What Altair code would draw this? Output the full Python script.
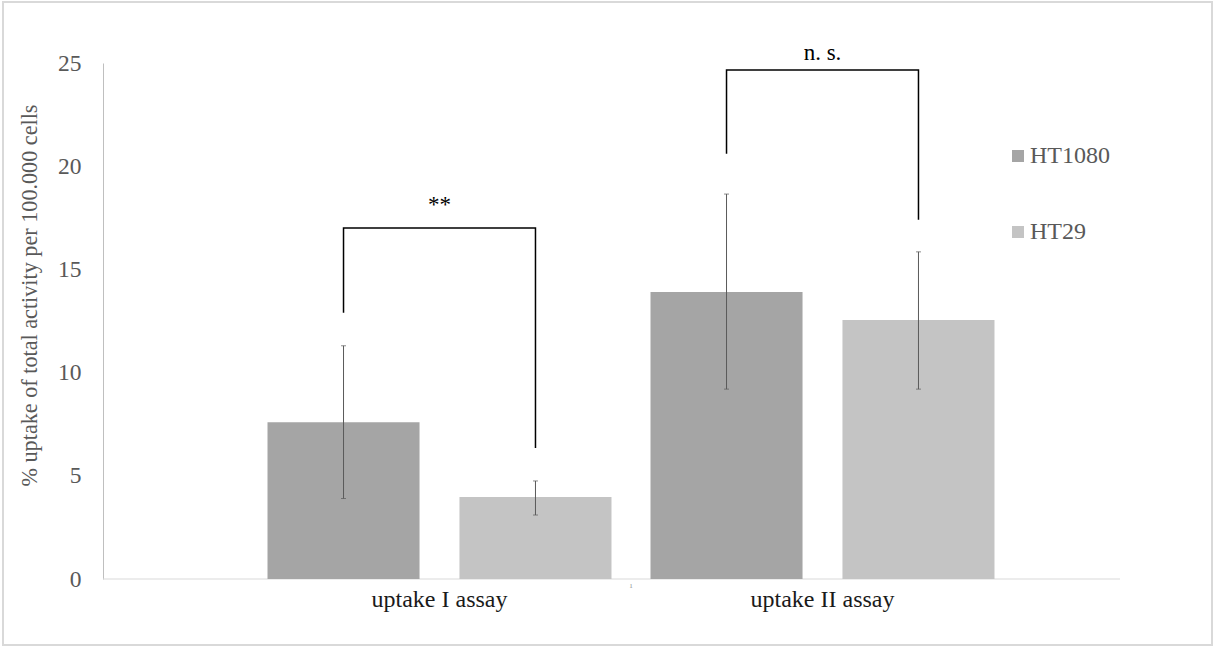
import altair as alt
import pandas as pd

# Mean uptake per assay and cell line, with error bar limits
assays = ["uptake I assay", "uptake I assay", "uptake II assay", "uptake II assay"]
cell_lines = ["HT1080", "HT29", "HT1080", "HT29"]
means = [7.6, 3.97, 13.9, 12.55]
err_low = [3.9, 3.1, 9.2, 9.2]
err_high = [11.3, 4.75, 18.65, 15.85]

# Significance brackets (each bracket is a 4-point polyline)
br_id = ["a", "a", "a", "a", "b", "b", "b", "b"]
br_assay = ["uptake I assay"] * 4 + ["uptake II assay"] * 4
br_line = ["HT1080", "HT1080", "HT29", "HT29", "HT1080", "HT1080", "HT29", "HT29"]
br_y = [12.9, 17.0, 17.0, 6.35, 20.6, 24.66, 24.66, 17.4]
br_order = [0, 1, 2, 3, 0, 1, 2, 3]

sig_assay = ["uptake I assay", "uptake II assay"]
sig_text = ["**", "n. s."]
sig_y = [18.1, 25.5]

categories = ["uptake I assay", "uptake II assay"]
series = ["HT1080", "HT29"]
series_colors = ["#a5a5a5", "#c4c4c4"]

bars_df = pd.DataFrame({"assay": assays, "line": cell_lines, "mean": means,
                        "lo": err_low, "hi": err_high})
br_df = pd.DataFrame({"id": br_id, "assay": br_assay, "line": br_line,
                      "y": br_y, "order": br_order})
sig_df = pd.DataFrame({"assay": sig_assay, "text": sig_text, "y": sig_y})

W, H = 1017, 516
FONT = "Times New Roman, Liberation Serif, serif"

x_scale = alt.Scale(domain=categories, range=[145, 911], paddingInner=0, paddingOuter=0)
off_scale = alt.Scale(domain=series, paddingInner=0.208, paddingOuter=0.1016)
y_scale = alt.Scale(domain=[0, 25], nice=False)

x_enc = alt.X("assay:N", scale=x_scale, sort=categories,
              axis=alt.Axis(title=None, domain=False, ticks=False, labelAngle=0,
                            labelFont=FONT, labelFontSize=24, labelColor="#1a1a1a",
                            labelPadding=8))
y_enc = alt.Y("mean:Q", scale=y_scale,
              axis=alt.Axis(title="% uptake of total activity per 100.000 cells",
                            values=[0, 5, 10, 15, 20, 25], grid=False, ticks=False,
                            domainColor="#bfbfbf", domainWidth=1,
                            labelFont=FONT, labelFontSize=23.5, labelColor="#595959",
                            labelPadding=22, titleFont=FONT, titleFontSize=22.2,
                            titleFontWeight="normal", titleColor="#595959",
                            titlePadding=16, titleY=232))

bars = alt.Chart(bars_df).mark_bar().encode(
    x=x_enc,
    xOffset=alt.XOffset("line:N", scale=off_scale, sort=series),
    y=y_enc,
    color=alt.Color("line:N", scale=alt.Scale(domain=series, range=series_colors),
                    legend=alt.Legend(title=None, orient="none", legendX=903, legendY=81,
                                      symbolType="square", symbolSize=144,
                                      symbolStrokeWidth=0, labelFont=FONT,
                                      labelFontSize=24, labelColor="#595959",
                                      rowPadding=52, labelOffset=0)),
)

err = alt.Chart(bars_df).mark_rule(color="#5a5a5a", strokeWidth=1).encode(
    x=alt.X("assay:N", scale=x_scale, sort=categories),
    xOffset=alt.XOffset("line:N", scale=off_scale, sort=series),
    y=alt.Y("lo:Q", scale=y_scale),
    y2="hi:Q",
)
cap_lo = alt.Chart(bars_df).mark_tick(color="#5a5a5a", size=5, thickness=1).encode(
    x=alt.X("assay:N", scale=x_scale, sort=categories),
    xOffset=alt.XOffset("line:N", scale=off_scale, sort=series),
    y=alt.Y("lo:Q", scale=y_scale),
)
cap_hi = alt.Chart(bars_df).mark_tick(color="#5a5a5a", size=5, thickness=1).encode(
    x=alt.X("assay:N", scale=x_scale, sort=categories),
    xOffset=alt.XOffset("line:N", scale=off_scale, sort=series),
    y=alt.Y("hi:Q", scale=y_scale),
)

brackets = alt.Chart(br_df).mark_line(color="#000000", strokeWidth=1.5).encode(
    x=alt.X("assay:N", scale=x_scale, sort=categories),
    xOffset=alt.XOffset("line:N", scale=off_scale, sort=series),
    y=alt.Y("y:Q", scale=y_scale),
    detail="id:N",
    order="order:Q",
)

sig = alt.Chart(sig_df).mark_text(font=FONT, fontSize=23, color="#000000",
                                  baseline="middle").encode(
    x=alt.X("assay:N", scale=x_scale, sort=categories),
    y=alt.Y("y:Q", scale=y_scale),
    text="text:N",
)

one = pd.DataFrame({"k": [0]})
x_axis_line = alt.Chart(one).mark_rule(color="#d9d9d9", strokeWidth=1).encode(
    x=alt.value(0), x2=alt.value(W), y=alt.value(H))
small_mark = alt.Chart(one).mark_text(text="1", fontSize=7, color="#8c8c8c",
                                      font=FONT).encode(x=alt.value(528), y=alt.value(523))
frame = alt.Chart(one).mark_rect(fill="transparent", stroke="#d9d9d9",
                                 strokeWidth=2).encode(
    x=alt.value(-100), x2=alt.value(1109), y=alt.value(-61), y2=alt.value(582))

chart = alt.layer(frame, x_axis_line, bars, err, cap_lo, cap_hi, brackets, sig,
                  small_mark).properties(
    width=W, height=H,
    padding={"left": 103, "top": 63, "right": 95, "bottom": 68},
    autosize=alt.AutoSizeParams(type="none"),
    background="#ffffff",
).configure_view(stroke=None)

chart.save("out.html", embed_options={"renderer": "svg", "actions": False})
